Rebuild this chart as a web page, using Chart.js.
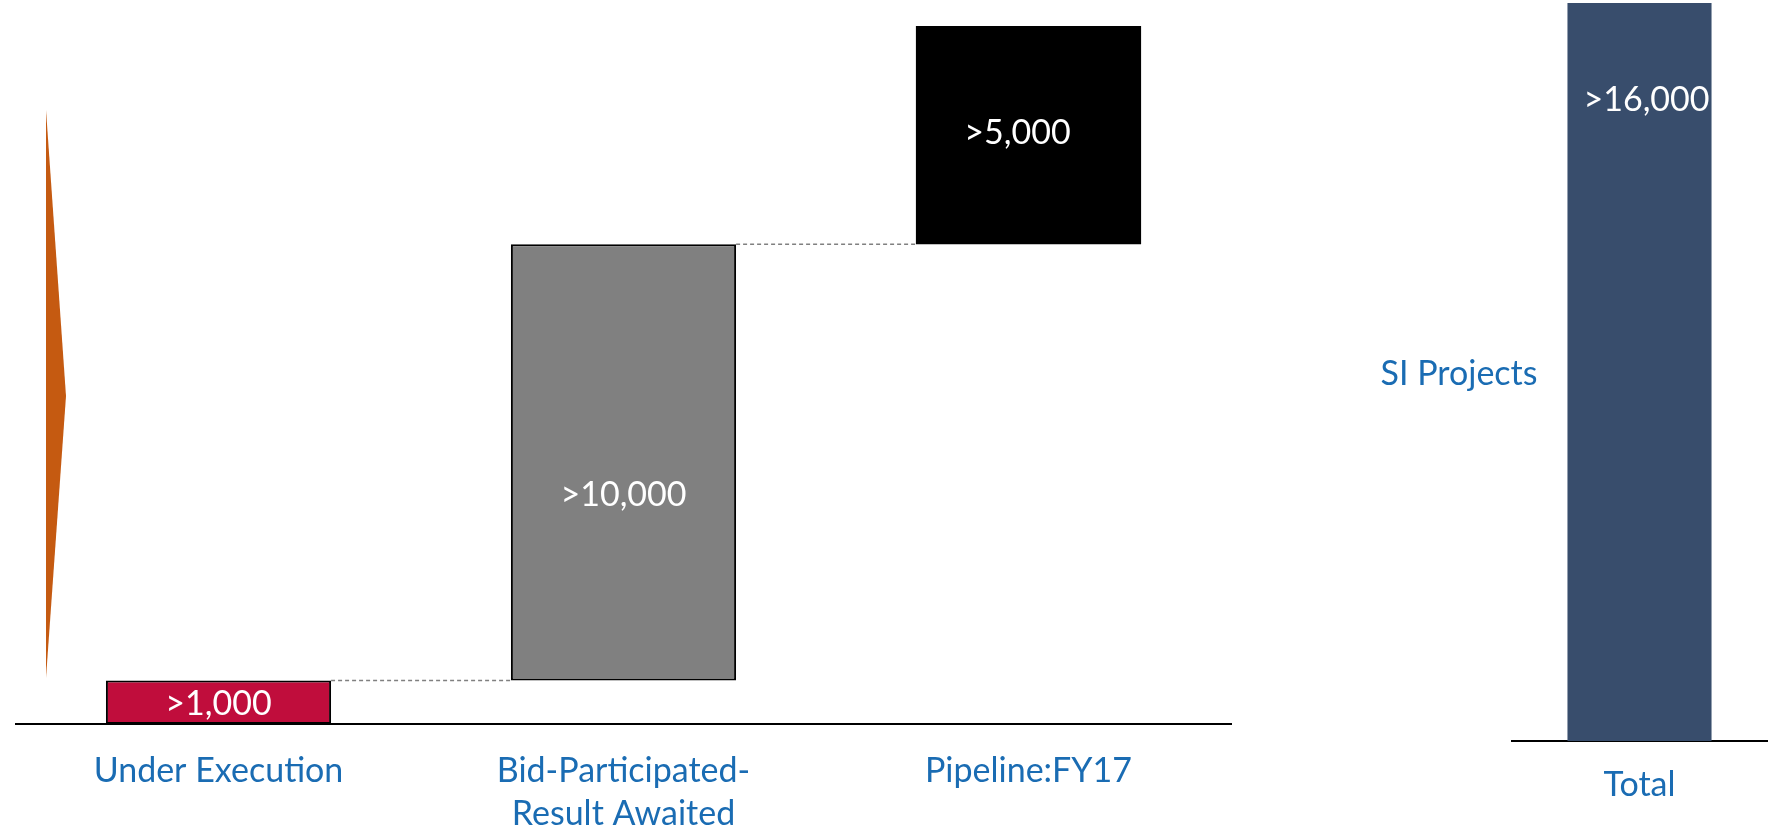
<!DOCTYPE html>
<html>
<head>
<meta charset="utf-8">
<script src="https://cdn.jsdelivr.net/npm/chart.js@4"></script>
<style>
  html, body { margin: 0; padding: 0; background: #fff; overflow: hidden; }
  #wrap { position: relative; width: 1773px; height: 830px; }
  canvas { position: absolute; top: 0; }
  #steps { left: 0; }
  #total { left: 1500px; }
  #arrow { position: absolute; left: 0; top: 0; }
  #siLabel { position: absolute; left: 1379px; top: 351px; width: 160px; text-align: center;
             font-family: Lato, sans-serif; font-size: 34px; color: #1a6cb3; white-space: nowrap; }
</style>
</head>
<body>
<div id="wrap">
  <svg id="arrow" width="80" height="830">
    <polygon points="46,110 66,396 46,678" fill="#C55A11"></polygon>
  </svg>
  <canvas id="steps" width="1240" height="830"></canvas>
  <canvas id="total" width="273" height="830"></canvas>
  <div id="siLabel">SI Projects</div>
</div>
<script>
// datos del gráfico
const categories = ['Under Execution', ['Bid-Participated-', 'Result Awaited'], 'Pipeline:FY17'];
const stepValues = [1000, 10000, 5000];
const valueLabels = ['>1,000', '>10,000', '>5,000'];
const barColors = ['#C00D3C', '#808080', '#000000'];
const totalCategory = ['Total'];
const totalValues = [16000];
const totalLabels = ['>16,000'];
const axisMax = 16000;

const labelFont = '34px Lato, sans-serif';
const labelColor = '#1a6cb3';

// barras flotantes a partir de los acumulados
let running = 0;
const floating = stepValues.map(v => {
    const seg = [running, running + v];
    running += v;
    return seg;
});

// texto blanco dentro de las barras (shift = ajuste fino de posición del texto)
function valueTextPlugin(texts, shift, offsetFromTop) {
    return {
        id: 'valueText',
        afterDatasetsDraw(chart) {
            const ctx = chart.ctx;
            const meta = chart.getDatasetMeta(0);
            ctx.save();
            ctx.font = labelFont;
            ctx.fillStyle = '#ffffff';
            ctx.textAlign = 'center';
            ctx.textBaseline = 'middle';
            meta.data.forEach((bar, i) => {
                const top = Math.min(bar.y, bar.base);
                const bottom = Math.max(bar.y, bar.base);
                const y = offsetFromTop ? top + offsetFromTop : (top + bottom) / 2;
                const s = shift[i] || [0, 0];
                ctx.fillText(texts[i], bar.x + s[0], y + s[1]);
            });
            ctx.restore();
        }
    };
}

// líneas punteadas entre barras
const connectorPlugin = {
    id: 'connectors',
    beforeDatasetsDraw(chart) {
        const ctx = chart.ctx;
        const meta = chart.getDatasetMeta(0);
        const yScale = chart.scales.y;
        ctx.save();
        ctx.strokeStyle = '#808080';
        ctx.lineWidth = 1.5;
        ctx.setLineDash([4, 3]);
        for (let i = 0; i < meta.data.length - 1; i++) {
            const a = meta.data[i];
            const b = meta.data[i + 1];
            const y = yScale.getPixelForValue(floating[i][1]);
            ctx.beginPath();
            ctx.moveTo(a.x + a.width / 2, y);
            ctx.lineTo(b.x - b.width / 2, y);
            ctx.stroke();
        }
        ctx.restore();
    }
};

function xAxis(height, padding) {
    return {
        grid: { display: false },
        border: { display: true, color: '#000000', width: 2 },
        ticks: {
            color: labelColor,
            font: { family: 'Lato, sans-serif', size: 34, lineHeight: 1.25 },
            padding: padding,
            maxRotation: 0,
            autoSkip: false
        },
        afterFit(scale) { scale.height = height; }
    };
}

new Chart(document.getElementById('steps'), {
    type: 'bar',
    data: {
        labels: categories,
        datasets: [{
            data: floating,
            backgroundColor: barColors,
            borderColor: ['#000000', '#000000', '#000000'],
            borderWidth: [2, 2, 0],
            borderSkipped: false,
            categoryPercentage: 1,
            barPercentage: 0.556
        }]
    },
    options: {
        responsive: false,
        animation: false,
        devicePixelRatio: 1,
        layout: { padding: { left: 16, right: 9, top: 26, bottom: 0 } },
        plugins: { legend: { display: false }, tooltip: { enabled: false } },
        scales: {
            x: xAxis(106, 18),
            y: { display: false, min: 0, max: axisMax }
        }
    },
    plugins: [connectorPlugin, valueTextPlugin(valueLabels, [[0, 2], [0, 33], [-11, -2]])]
});

new Chart(document.getElementById('total'), {
    type: 'bar',
    data: {
        labels: totalCategory,
        datasets: [{
            data: totalValues,
            backgroundColor: '#384D6C',
            borderWidth: 0,
            categoryPercentage: 1,
            barPercentage: 0.565
        }]
    },
    options: {
        responsive: false,
        animation: false,
        devicePixelRatio: 1,
        layout: { padding: { left: 12, right: 6, top: 3, bottom: 0 } },
        plugins: { legend: { display: false }, tooltip: { enabled: false } },
        scales: {
            x: xAxis(89, 15),
            y: { display: false, min: 0, max: axisMax }
        }
    },
    plugins: [valueTextPlugin(totalLabels, [[7, 0]], 97)]
});
</script>
</body>
</html>
